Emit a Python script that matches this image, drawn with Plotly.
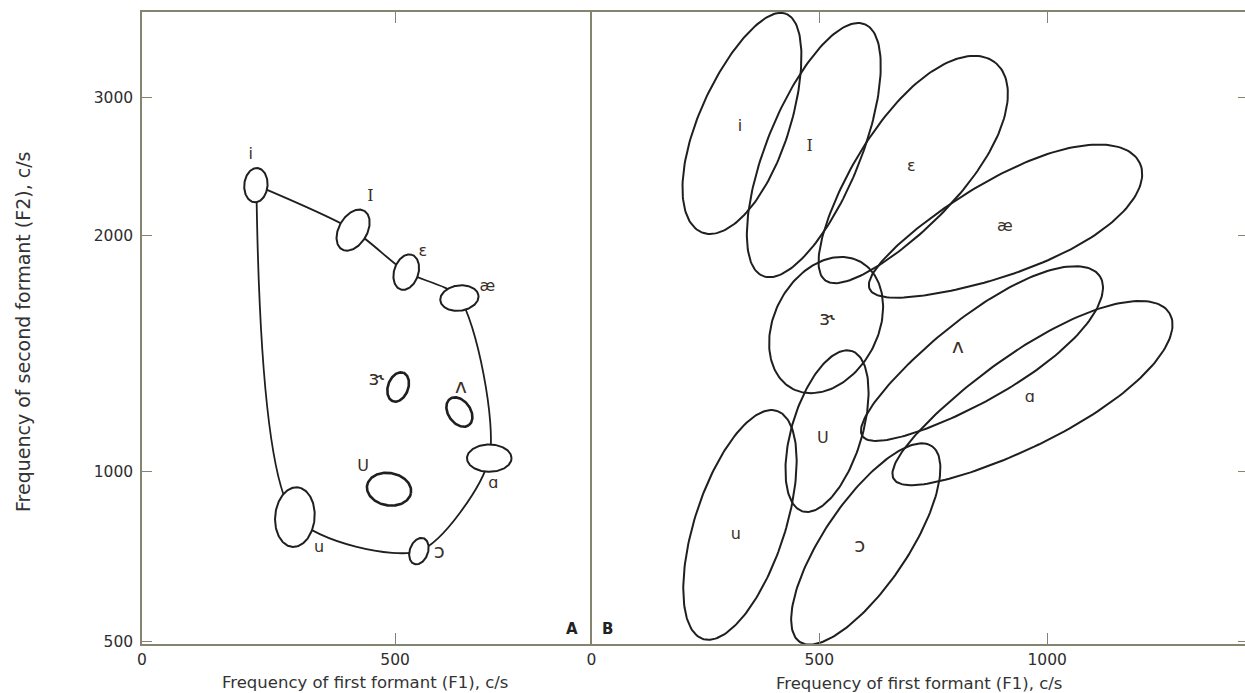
import numpy as np
import plotly.graph_objects as go

# ------------------------------------------------------------------
# Data (F1, F2 in c/s)
# ------------------------------------------------------------------
vowels = ["i", "I", "ɛ", "æ", "ɝ", "ʌ", "U", "ɑ", "u", "ɔ"]

# Panel A - small areas around the average formants of each vowel
a_f1 = [225, 417, 522, 627, 506, 627, 488, 686, 302, 547]
a_f2 = [2320, 2033, 1797, 1665, 1282, 1191, 948, 1040, 866, 766]
a_major = [34, 44, 36, 38, 30, 32, 44, 44, 59, 27]      # semi-axis, c/s on F1 scale
a_minor = [23, 28, 24, 25, 20, 22, 32, 27, 39, 18]
a_tilt = [85, 60, 72, 8, 70, -55, -10, 0, 85, 70]       # degrees
a_lab_f1 = [215, 451, 555, 682, 463, 630, 437, 694, 350, 587]
a_lab_f2 = [2534, 2240, 1905, 1719, 1308, 1278, 1013, 963, 775, 760]
loop_order = ["i", "I", "ɛ", "æ", "ɑ", "ɔ", "u", "i"]
a_bold = ["ɝ", "ʌ", "U"]

# Panel B - spread of the individual measurements
b_f1 = [335, 488, 699, 907, 515, 855, 517, 966, 326, 602]
b_f2 = [2784, 2572, 2417, 2057, 1538, 1404, 1126, 1248, 843, 787]
b_major = [257, 298, 303, 327, 158, 314, 184, 353, 263, 259]
b_minor = [99, 103, 115, 105, 114, 92, 77, 102, 99, 92]
b_tilt = [69, 68, 52, 25, 62, 34, 73, 31, 72, 56]
b_egg = [-0.1, 0, 0.2, 0.25, 0, 0.2, 0, 0.2, 0, 0]      # widening toward upper tip
b_lab_f1 = [326, 479, 702, 907, 517, 804, 508, 962, 317, 589]
b_lab_f2 = [2751, 2593, 2445, 2051, 1560, 1437, 1100, 1241, 813, 778]

f2_ticks = [500, 1000, 2000, 3000]
a_f1_ticks = [0, 500]
b_f1_ticks = [0, 500, 1000]


# ------------------------------------------------------------------
# Frequency scale: linear below 1000 c/s, logarithmic above
# ------------------------------------------------------------------
def fscale(f):
    f = np.asarray(f, dtype=float)
    return np.where(f <= 1000, f, 1000 + 1000 * np.log(np.maximum(f, 1) / 1000))


# ------------------------------------------------------------------
# Layout geometry
# ------------------------------------------------------------------
W, H = 1245, 693
ML, MR, MT, MB = 142, 0, 12, 49
PW, PH = W - ML - MR, H - MT - MB
split = (590 - ML) / PW
xa_range = [0, 885]
xb_range = [-3, 1434]
y_range = [float(fscale(493)), float(fscale(3860))]

sy = PH / (y_range[1] - y_range[0])
sx_a = split * PW / (xa_range[1] - xa_range[0])
sx_b = (1 - split) * PW / (xb_range[1] - xb_range[0])


def ellipse(f1, f2, major, minor, tilt, sx, egg=0.0, n=180):
    t = np.linspace(0, 2 * np.pi, n)
    th = np.radians(tilt)
    u = major * np.cos(t)
    v = minor * (1 + egg * np.cos(t)) * np.sin(t)
    dx = u * np.cos(th) - v * np.sin(th)
    dy = (u * np.sin(th) + v * np.cos(th)) * sx / sy
    return f1 + dx, float(fscale(f2)) + dy


LINE = "#1f1f1f"
AXC = "#85856f"
TXT = "#3a3028"
SANS = "DejaVu Sans"
lab_fonts = ["DejaVu Serif" if v == "I" else SANS for v in vowels]
lab_sizes = [20 if v in ("ɝ", "ʌ", "ɔ") else 16 for v in vowels]

fig = go.Figure()

# ---- Panel A: vowel loop ----
idx = {v: k for k, v in enumerate(vowels)}
lx = [a_f1[idx[v]] for v in loop_order]
ly = [a_f2[idx[v]] for v in loop_order]
lx[-1] += 1  # keep the loop open so the corner at /i/ stays sharp
fig.add_trace(go.Scatter(x=lx, y=fscale(ly), mode="lines",
                         line=dict(color=LINE, width=1.8, shape="spline", smoothing=0.75),
                         xaxis="x", yaxis="y", hoverinfo="skip", showlegend=False))

for k, v in enumerate(vowels):
    ex, ey = ellipse(a_f1[k], a_f2[k], a_major[k], a_minor[k], a_tilt[k], sx_a)
    fig.add_trace(go.Scatter(x=ex, y=ey, mode="lines", fill="toself", fillcolor="white",
                             line=dict(color=LINE, width=2.6 if v in a_bold else 2.0),
                             xaxis="x", yaxis="y", hoverinfo="skip", showlegend=False))

fig.add_trace(go.Scatter(x=a_lab_f1, y=fscale(a_lab_f2), mode="text", text=vowels,
                         textfont=dict(family=lab_fonts, size=lab_sizes, color=TXT),
                         xaxis="x", yaxis="y", hoverinfo="skip", showlegend=False))

# ---- Panel B: vowel areas ----
for k, v in enumerate(vowels):
    ex, ey = ellipse(b_f1[k], b_f2[k], b_major[k], b_minor[k], b_tilt[k], sx_b, b_egg[k])
    fig.add_trace(go.Scatter(x=ex, y=ey, mode="lines",
                             line=dict(color=LINE, width=2.0),
                             xaxis="x2", yaxis="y2", hoverinfo="skip", showlegend=False))

fig.add_trace(go.Scatter(x=b_lab_f1, y=fscale(b_lab_f2), mode="text", text=vowels,
                         textfont=dict(family=lab_fonts, size=lab_sizes, color=TXT),
                         xaxis="x2", yaxis="y2", hoverinfo="skip", showlegend=False))

tickfont = dict(family=SANS, size=15.5, color="#2e2e2e")
ytv = fscale(f2_ticks)
ytt = [str(v) for v in f2_ticks]

fig.update_layout(
    width=W, height=H,
    margin=dict(l=ML, r=MR, t=MT, b=MB),
    paper_bgcolor="white", plot_bgcolor="white",
    showlegend=False,
    xaxis=dict(domain=[0, split], range=xa_range, tickvals=a_f1_ticks,
               ticktext=[str(v) for v in a_f1_ticks], ticks="inside", ticklen=11,
               tickcolor=AXC, showline=True, linecolor=AXC, linewidth=1.5,
               mirror="ticks", showgrid=False, zeroline=False, tickfont=tickfont,
               anchor="y", ticklabelstandoff=1),
    yaxis=dict(domain=[0, 1], range=y_range, tickvals=ytv, ticktext=ytt,
               ticks="inside", ticklen=10, tickcolor=AXC, showline=True,
               linecolor=AXC, linewidth=1.5, mirror=True, showgrid=False,
               zeroline=False, tickfont=tickfont, anchor="x", ticklabelstandoff=4),
    xaxis2=dict(domain=[split, 1], range=xb_range, tickvals=b_f1_ticks,
                ticktext=[str(v) for v in b_f1_ticks], ticks="inside", ticklen=11,
                tickcolor=AXC, showline=True, linecolor=AXC, linewidth=1.5,
                mirror="ticks", showgrid=False, zeroline=False, tickfont=tickfont,
                anchor="y2", ticklabelstandoff=1),
    yaxis2=dict(domain=[0, 1], range=y_range, tickvals=ytv, ticks="inside",
                ticklen=7, tickcolor=AXC, showline=False, showticklabels=False,
                side="right", showgrid=False, zeroline=False, anchor="x2"),
)

title_font = dict(family=SANS, size=16.5, color="#333333")
fig.add_annotation(text="Frequency of first formant (F1), c/s", xref="paper", yref="paper",
                   x=(365 - ML) / PW, y=(H - MB - 682) / PH, showarrow=False,
                   xanchor="center", yanchor="middle", font=title_font)
fig.add_annotation(text="Frequency of first formant (F1), c/s", xref="paper", yref="paper",
                   x=(919 - ML) / PW, y=(H - MB - 684) / PH, showarrow=False,
                   xanchor="center", yanchor="middle", font=title_font)
fig.add_annotation(text="Frequency of second formant (F2), c/s", xref="paper", yref="paper",
                   x=(23 - ML) / PW, y=(H - MB - 332) / PH, showarrow=False, textangle=-90,
                   xanchor="center", yanchor="middle",
                   font=dict(family=SANS, size=19, color="#333333"))
fig.add_annotation(text="<b>A</b>", xref="paper", yref="paper",
                   x=(572 - ML) / PW, y=(H - MB - 629) / PH, showarrow=False,
                   xanchor="center", yanchor="middle",
                   font=dict(family=SANS, size=15, color="#222222"))
fig.add_annotation(text="<b>B</b>", xref="paper", yref="paper",
                   x=(607 - ML) / PW, y=(H - MB - 629) / PH, showarrow=False,
                   xanchor="center", yanchor="middle",
                   font=dict(family=SANS, size=15, color="#222222"))

fig.write_html("out.html")
